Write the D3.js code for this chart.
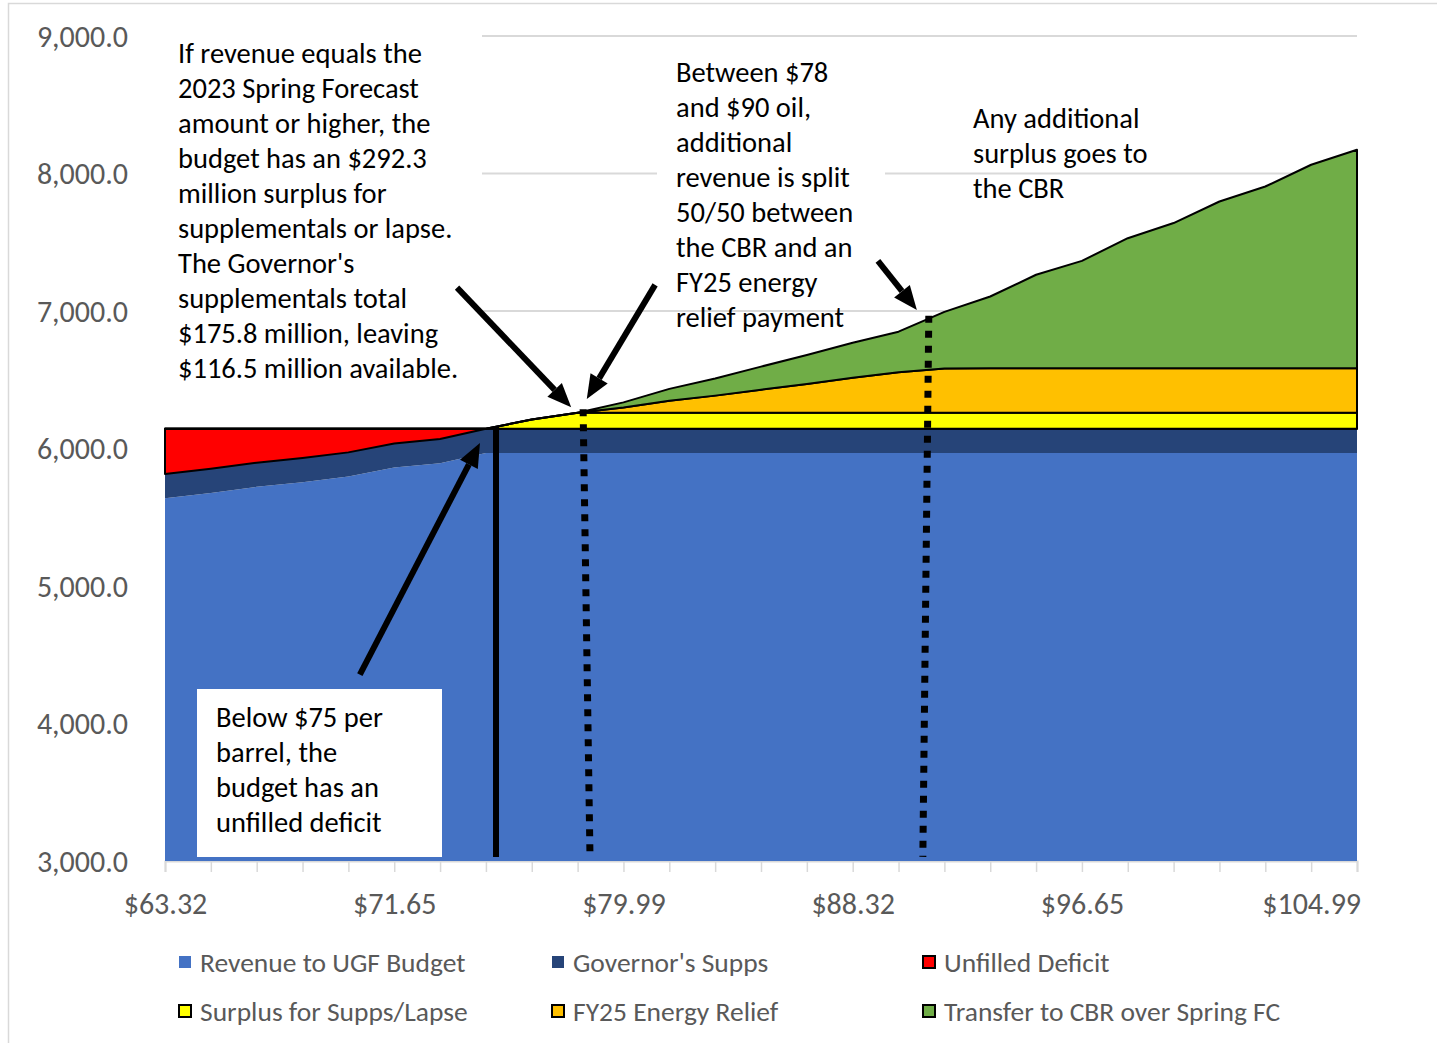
<!DOCTYPE html>
<html>
<head>
<meta charset="utf-8">
<script src="https://cdn.jsdelivr.net/npm/d3@7"></script>
<style>
  body { margin: 0; background: #fff; }
  text { font-family: Calibri, Carlito, Lato, sans-serif; }
</style>
</head>
<body>
<div id="chart"></div>
<script>
// oil price categories ($/bbl)
const PRICES = ["$63.32","$64.99","$66.65","$68.32","$69.99","$71.65","$73.32","$74.99","$76.65",
  "$78.32","$79.99","$81.65","$83.32","$84.99","$86.65","$88.32","$89.99","$91.65","$93.32",
  "$94.99","$96.65","$98.32","$99.99","$101.65","$103.32","$104.99","$106.66"];

// $ millions, stacked bottom to top
const REVENUE_UGF = [5639,5677,5721,5755,5796,5861,5893,5967.2,5967.2,5967.2,5967.2,5967.2,5967.2,5967.2,
  5967.2,5967.2,5967.2,5967.2,5967.2,5967.2,5967.2,5967.2,5967.2,5967.2,5967.2,5967.2,5967.2];
const GOV_SUPPS = [175.8,175.8,175.8,175.8,175.8,175.8,175.8,175.8,175.8,175.8,175.8,175.8,175.8,175.8,
  175.8,175.8,175.8,175.8,175.8,175.8,175.8,175.8,175.8,175.8,175.8,175.8,175.8];
const UNFILLED_DEFICIT = [328,290,246,212,171,106,74,0,0,0,0,0,0,0,0,0,0,0,0,0,0,0,0,0,0,0,0];
const SURPLUS = [0,0,0,0,0,0,0,0,68,116.5,116.5,116.5,116.5,116.5,116.5,116.5,116.5,116.5,116.5,
  116.5,116.5,116.5,116.5,116.5,116.5,116.5,116.5];
const ENERGY_RELIEF = [0,0,0,0,0,0,0,0,0,0,38,87,125,168,210,255,295,322,325,325,325,325,325,325,325,325,325];
const CBR_TRANSFER = [0,0,0,0,0,0,0,0,0,0,38,87,125,168,210,255,295,412,521,679,780,945,1055,1212,1321,1479,1588];

const Y_TICKS = [3000,4000,5000,6000,7000,8000,9000];
const LABEL_EVERY = 5;

var width = 1437, height = 1043;
var plot = {left: 165, right: 1357, top: 36, bottom: 861};

var svg = d3.select("#chart")
  .append("svg")
    .attr("width", width)
    .attr("height", height);

// chart border
svg.append("rect")
  .attr("x", 8.5).attr("y", 3.5)
  .attr("width", 1440).attr("height", 1050)
  .attr("fill", "#fff")
  .attr("stroke", "#D9D9D9")
  .attr("stroke-width", 1.5);

var x = d3.scalePoint()
  .domain(PRICES)
  .range([plot.left, plot.right]);
// same axis, by index, for annotation shapes
var xi = d3.scaleLinear()
  .domain([0, PRICES.length - 1])
  .range([plot.left, plot.right]);
var y = d3.scaleLinear()
  .domain([3000, 9000])
  .range([plot.bottom, plot.top])
  .clamp(true);

// gridlines
svg.append("g")
  .selectAll("line")
  .data(Y_TICKS.slice(1))
  .enter()
  .append("line")
    .attr("x1", plot.left).attr("x2", plot.right)
    .attr("y1", d => y(d)).attr("y2", d => y(d))
    .attr("stroke", "#D9D9D9")
    .attr("stroke-width", 2);

// y labels
svg.append("g")
  .selectAll("text")
  .data(Y_TICKS)
  .enter()
  .append("text")
    .attr("x", 128)
    .attr("y", d => y(d))
    .attr("dy", "0.35em")
    .attr("text-anchor", "end")
    .attr("fill", "#595959")
    .style("font-size", "30px")
    .text(d => d3.format(",.1f")(d));

// x axis
var xAxis = svg.append("g")
  .attr("transform", "translate(0," + plot.bottom + ")")
  .call(d3.axisBottom(x).tickSize(11).tickFormat((d, i) => i % LABEL_EVERY === 0 ? d : ""));
xAxis.select(".domain").attr("stroke", "#D9D9D9").attr("stroke-width", 2);
xAxis.selectAll(".tick line").attr("stroke", "#D9D9D9").attr("stroke-width", 1.5);
xAxis.selectAll(".tick text")
  .attr("y", 42).attr("dy", "0.35em")
  .attr("fill", "#595959")
  .style("font-size", "30px")
  .style("font-family", "Calibri, Carlito, Lato, sans-serif");

// stacked areas
var series = [
  {key: "Revenue to UGF Budget", values: REVENUE_UGF, color: "#4472C4", outline: false},
  {key: "Governor's Supps", values: GOV_SUPPS, color: "#264478", outline: false},
  {key: "Unfilled Deficit", values: UNFILLED_DEFICIT, color: "#FF0000", outline: true},
  {key: "Surplus for Supps/Lapse", values: SURPLUS, color: "#FFFF00", outline: true},
  {key: "FY25 Energy Relief", values: ENERGY_RELIEF, color: "#FFC000", outline: true},
  {key: "Transfer to CBR over Spring FC", values: CBR_TRANSFER, color: "#70AD47", outline: true}
];
var table = PRICES.map((p, i) => {
  var row = {price: p};
  series.forEach(s => { row[s.key] = s.values[i]; });
  return row;
});
var stacked = d3.stack().keys(series.map(s => s.key))(table);

var area = d3.area()
  .x(d => x(d.data.price))
  .y0(d => y(d[0]))
  .y1(d => y(d[1]));

svg.append("g")
  .selectAll("path")
  .data(stacked)
  .enter()
  .append("path")
    .attr("d", area)
    .attr("fill", (d, i) => series[i].color)
    .attr("stroke", (d, i) => series[i].outline ? "#000" : "none")
    .attr("stroke-width", 2)
    .attr("stroke-linejoin", "round");

// annotation text boxes (white fill hides gridlines)
var boxes = [
  {x: 160, y: 20, w: 322, h: 375},
  {x: 657, y: 50, w: 228, h: 250},
  {x: 197, y: 689, w: 245, h: 168}
];
svg.append("g")
  .selectAll("rect")
  .data(boxes)
  .enter()
  .append("rect")
    .attr("x", d => d.x).attr("y", d => d.y)
    .attr("width", d => d.w).attr("height", d => d.h)
    .attr("fill", "#fff");

var notes = [
  {x: 178, y: 63, lines: ["If revenue equals the", "2023 Spring Forecast", "amount or higher, the",
    "budget has an $292.3", "million surplus for", "supplementals or lapse.", "The Governor's",
    "supplementals total", "$175.8 million, leaving", "$116.5 million available."]},
  {x: 676, y: 82, lines: ["Between $78", "and $90 oil,", "additional", "revenue is split",
    "50/50 between", "the CBR and an", "FY25 energy", "relief payment"]},
  {x: 973, y: 128, lines: ["Any additional", "surplus goes to", "the CBR"]},
  {x: 216, y: 727, lines: ["Below $75 per", "barrel, the", "budget has an", "unfilled deficit"]}
];
notes.forEach(n => {
  svg.append("text")
    .attr("fill", "#000")
    .style("font-size", "28.5px")
    .selectAll("tspan")
    .data(n.lines)
    .enter()
    .append("tspan")
      .attr("x", n.x)
      .attr("y", (d, i) => n.y + i * 35)
      .text(d => d);
});

// vertical marker lines (index, value)
var markers = [
  {a: [7.22, 3030], b: [7.22, 6160], dash: null},
  {a: [9.12, 6285], b: [9.27, 3030], dash: "7,8"},
  {a: [16.66, 6965], b: [16.53, 3030], dash: "7,8"}
];
svg.append("g")
  .selectAll("line")
  .data(markers)
  .enter()
  .append("line")
    .attr("x1", d => xi(d.a[0])).attr("y1", d => y(d.a[1]))
    .attr("x2", d => xi(d.b[0])).attr("y2", d => y(d.b[1]))
    .attr("stroke", "#000")
    .attr("stroke-width", d => d.dash ? 7 : 6)
    .attr("stroke-dasharray", d => d.dash);

// arrows: tail -> tip, (index, value)
var arrows = [
  {from: [6.37, 7170], to: [8.86, 6300]},
  {from: [10.69, 7190], to: [9.2, 6360]},
  {from: [15.55, 7365], to: [16.4, 7007]},
  {from: [4.25, 4355], to: [6.87, 6040]}
];
var ag = svg.append("g");
arrows.forEach(a => {
  var x0 = xi(a.from[0]), y0 = y(a.from[1]), x1 = xi(a.to[0]), y1 = y(a.to[1]);
  var ang = Math.atan2(y1 - y0, x1 - x0);
  var headLen = 24, headW = 10;
  var bx = x1 - headLen * Math.cos(ang), by = y1 - headLen * Math.sin(ang);
  ag.append("line")
    .attr("x1", x0).attr("y1", y0).attr("x2", bx).attr("y2", by)
    .attr("stroke", "#000").attr("stroke-width", 6);
  var px = -Math.sin(ang), py = Math.cos(ang);
  ag.append("path")
    .attr("d", "M" + x1 + "," + y1 +
      "L" + (bx + px * headW) + "," + (by + py * headW) +
      "L" + (bx - px * headW) + "," + (by - py * headW) + "Z")
    .attr("fill", "#000");
});

// legend
var legendPos = [[178, 962], [551, 962], [922, 962], [178, 1011], [551, 1011], [922, 1011]];
var legend = svg.append("g")
  .selectAll("g")
  .data(series)
  .enter()
  .append("g")
    .attr("transform", (d, i) => "translate(" + legendPos[i][0] + "," + legendPos[i][1] + ")");
legend.append("rect")
  .attr("x", 1).attr("y", -6)
  .attr("width", 12).attr("height", 12)
  .attr("fill", d => d.color)
  .attr("stroke", d => d.outline ? "#000" : "none")
  .attr("stroke-width", 2);
legend.append("text")
  .attr("x", 22)
  .attr("dy", "0.35em")
  .attr("fill", "#595959")
  .style("font-size", "27.5px")
  .text(d => d.key);
</script>
</body>
</html>
